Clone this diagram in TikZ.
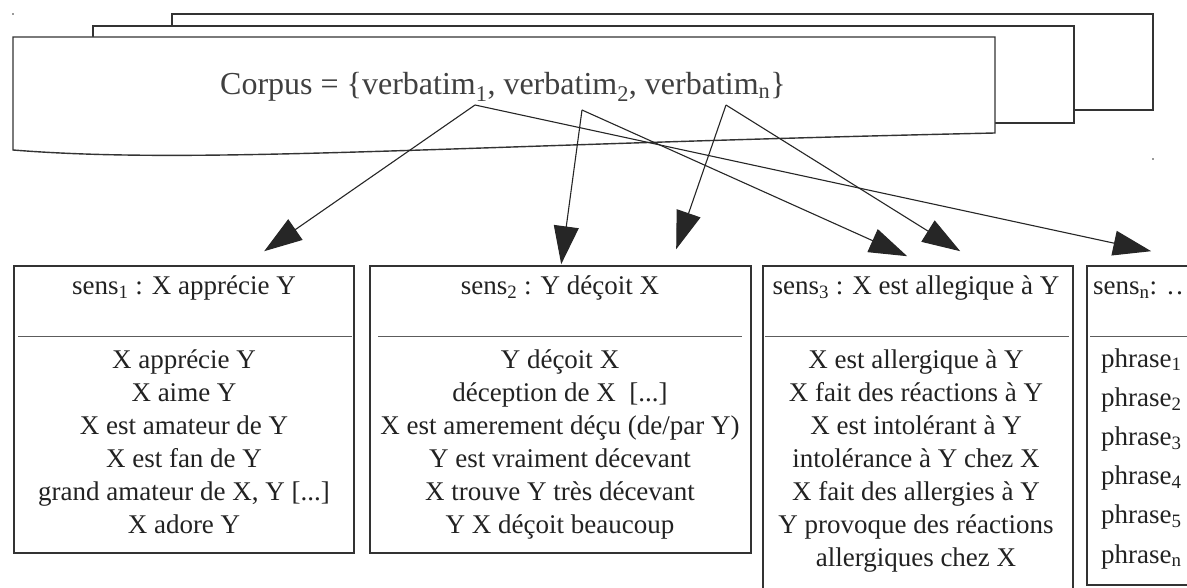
\documentclass[tikz,border=0pt]{standalone}
\usepackage{fontspec}
\setmainfont{Liberation Serif}
\usetikzlibrary{arrows.meta,calc}
\definecolor{ink}{HTML}{333333}
\definecolor{txt}{HTML}{222222}
\definecolor{ctxt}{HTML}{404040}
\newcommand{\threedots}{...}
\begin{document}
\begin{tikzpicture}[x=1pt,y=-1pt,
  doc/.style={draw=ink, line width=1.4pt, fill=white},
  sensbox/.style={draw=ink, line width=1.6pt, rectangle, inner sep=0pt},
  divider/.style={draw=ink!80, line width=1.2pt},
  boxtext/.style={text=txt, font=\fontsize{27}{33}\selectfont, inner sep=0pt, anchor=base},
  conn/.style={draw=black!85, line width=1.1pt, -{Triangle[length=38pt,width=25pt]}},
]
\clip (0,0) rectangle (1187,588);
\fill[white] (0,0) rectangle (1187,588);
% stacked documents
\draw[doc] (172,14) rectangle (1153,110);
\draw[doc] (93,26) rectangle (1074,123);
\draw[doc] (13,37) -- (995,37) -- (995,133) .. controls (450,145) and (200,165) .. (13,150) -- cycle;
\fill[ink] (13,14) circle (0.8);
\fill[ink] (1153,159) circle (0.8);
\node[text=ctxt, font=\fontsize{32}{38}\selectfont, anchor=base, inner sep=0pt] (corpus) at (503,95)
  {Corpus = \{verbatim\textsubscript{1}, verbatim\textsubscript{2}, verbatim\textsubscript{n}\}};
\coordinate (v1) at (475,105);
\coordinate (v2) at (582,110);
\coordinate (vn) at (726,105);
% sense boxes
\node[sensbox, minimum width=340pt, minimum height=287pt] (s1) at (184,409.5) {};
\node[sensbox, minimum width=381pt, minimum height=287pt] (s2) at (560.5,409.5) {};
\node[sensbox, minimum width=310pt, minimum height=354pt] (s3) at (918,443) {};
\node[sensbox, minimum width=133pt, minimum height=319pt] (sn) at (1153.5,425.5) {};
\draw[divider] ($(s1.north west)+(5,71)$) -- ($(s1.north east)+(-3,71)$);
\draw[divider] ($(s2.north west)+(9,71)$) -- ($(s2.north east)+(-10,71)$);
\draw[divider] ($(s3.north west)+(3,71)$) -- ($(s3.north east)+(-5,71)$);
\draw[divider] ($(sn.north west)+(4,71)$) -- ($(sn.north east)+(-3,71)$);
% titles
\node[boxtext] (h1) at (184,295) {sens\textsubscript{1} : X apprécie Y};
\node[boxtext] (h2) at (560,295) {sens\textsubscript{2} : Y déçoit X};
\node[boxtext] (h3) at (916,295) {sens\textsubscript{3} : X est allegique à Y};
\node[boxtext, anchor=base west] (hn) at (1093,295) {sens\textsubscript{n}: …};
% bodies
\foreach \t [count=\i] in {{X apprécie Y},{X aime Y},{X est amateur de Y},{X est fan de Y},{grand amateur de X, Y [\threedots]},{X adore Y}}
  \node[boxtext] (a\i) at (184,{368+33*(\i-1)}) {\t};
\foreach \t [count=\i] in {{Y déçoit X},{déception de X~ [\threedots]},{X est amerement déçu (de/par Y)},{Y est vraiment décevant},{X trouve Y très décevant},{Y X déçoit beaucoup}}
  \node[boxtext] (b\i) at (560,{368+33*(\i-1)}) {\t};
\foreach \t [count=\i] in {{X est allergique à Y},{X fait des réactions à Y},{X est intolérant à Y},{intolérance à Y chez X},{X fait des allergies à Y},{Y provoque des réactions},{allergiques chez X}}
  \node[boxtext] (c\i) at (916,{368+33*(\i-1)}) {\t};
\foreach \s [count=\i] in {1,2,3,4,5,n}
  \node[boxtext, anchor=base west] (p\i) at (1101,{367+39.2*(\i-1)}) {phrase\textsubscript{\s}};
% connectors
\draw[conn] (v1) -- ($(s1.north west)+(251,-14)$);
\draw[conn] (v1) -- ($(sn.north west)+(65,-14)$);
\draw[conn] (v2) -- ($(s2.north west)+(192,-1)$);
\draw[conn] (v2) -- ($(s3.north west)+(145,-9)$);
\draw[conn] (vn) -- ($(s2.north west)+(307,-16)$);
\draw[conn] (vn) -- ($(s3.north west)+(198,-14)$);
\end{tikzpicture}
\end{document}
